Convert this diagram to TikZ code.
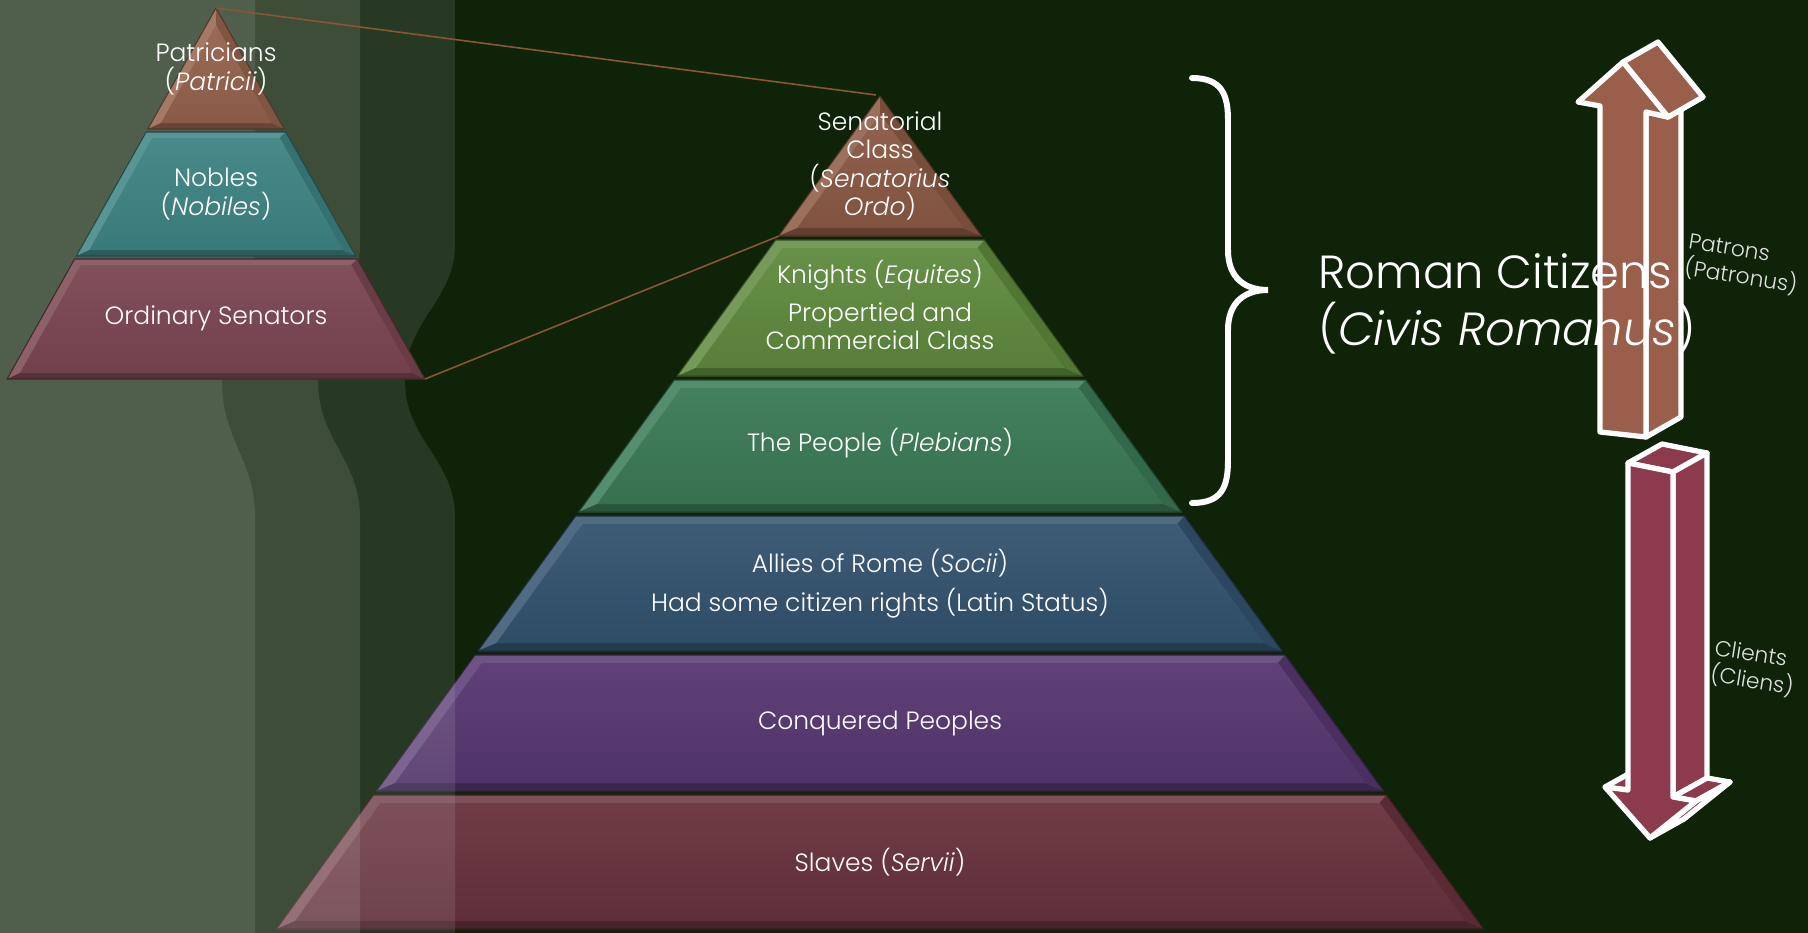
\documentclass[tikz,border=0pt]{standalone}
\usepackage{fontspec}
\IfFontExistsTF{Poppins Light}{%
  \IfFontExistsTF{Poppins Light Italic}{%
    \setmainfont{Poppins Light}[ItalicFont={Poppins Light Italic}]}{%
    \setmainfont{Poppins Light}}}{%
  \setmainfont{Poppins}}

\definecolor{bgcol}{HTML}{0F2309}
\definecolor{linkcol}{HTML}{8A5535}
\definecolor{senat}{HTML}{8B5A44}
\definecolor{knight}{HTML}{5F8A3E}
\definecolor{people}{HTML}{3B7A56}
\definecolor{allies}{HTML}{33536F}
\definecolor{conq}{HTML}{573771}
\definecolor{slave}{HTML}{68323C}
\definecolor{patric}{HTML}{95634D}
\definecolor{noble}{HTML}{3E8484}
\definecolor{ordsen}{HTML}{7B4651}
\definecolor{upcol}{HTML}{9A5F4A}
\definecolor{downcol}{HTML}{8C3A4C}

\newcommand{\tierfont}{\fontsize{7.1}{8.1}\selectfont}
\newcommand{\sidefont}{\fontsize{6.2}{7.6}\selectfont}
\newcommand{\citfont}{\fontsize{13.2}{16}\selectfont}

% one bevelled tier: centre x, apex y, slope, top y, bottom y, bevel, colour
\newcommand{\pyrtier}[7]{%
  \pgfmathsetmacro{\xtl}{#1-#3*(#4-#2)}%
  \pgfmathsetmacro{\xtr}{#1+#3*(#4-#2)}%
  \pgfmathsetmacro{\xbl}{#1-#3*(#5-#2)}%
  \pgfmathsetmacro{\xbr}{#1+#3*(#5-#2)}%
  \pgfmathsetmacro{\yit}{max(#4+#6,#2+1.6*#6/#3)}%
  \pgfmathsetmacro{\yib}{#5-#6}%
  \pgfmathsetmacro{\xitl}{#1-#3*(\yit-#2)+1.6*#6}%
  \pgfmathsetmacro{\xitr}{#1+#3*(\yit-#2)-1.6*#6}%
  \pgfmathsetmacro{\xibl}{#1-#3*(\yib-#2)+1.6*#6}%
  \pgfmathsetmacro{\xibr}{#1+#3*(\yib-#2)-1.6*#6}%
  \fill[#7!86!white] (\xtl,#4) -- (\xtr,#4) -- (\xbr,#5) -- (\xbl,#5) -- cycle;
  \fill[#7!86!black] (\xtr,#4) -- (\xbr,#5) -- (\xibr,\yib) -- (\xitr,\yit) -- cycle;
  \fill[#7!70!black] (\xbl,#5) -- (\xbr,#5) -- (\xibr,\yib) -- (\xibl,\yib) -- cycle;
  \shade[top color=#7!95!white, bottom color=#7!92!black]
    (\xitl,\yit) -- (\xitr,\yit) -- (\xibr,\yib) -- (\xibl,\yib) -- cycle;
  \draw[#7!55!black, line width=0.3pt] (\xtl,#4) -- (\xtr,#4) -- (\xbr,#5) -- (\xbl,#5) -- cycle;
}

\begin{document}
\begin{tikzpicture}[x=0.01cm,y=-0.01cm,
    tierlabel/.style={text=white,align=center,font=\tierfont,inner sep=0pt},
    sidelabel/.style={text=white!88!black,align=left,font=\sidefont,inner sep=0pt},
    citlabel/.style={text=white,font=\citfont,inner sep=0pt,anchor=base west},
    link/.style={draw=linkcol,line width=0.45pt}]
  \tikzstyle{arrowface}=[draw=white,line width=1.5pt,line join=round]

  \useasboundingbox (0,0) rectangle (1808,933);
  \fill[bgcol] (0,0) rectangle (1808,933);

  % main pyramid
  \foreach \t/\b/\c in {96/236/senat,240/376/knight,380/512/people,
                        516/651/allies,655/791/conq,795/929/slave}
    \pyrtier{880}{96}{0.7246}{\t}{\b}{8}{\c};

  % light bands on the left
  \foreach \A/\amp in {455/50,360/42,255/33}
    \fill[white,fill opacity=0.1] (0,0) -- (\A,0) -- (\A,245)
      .. controls (\A,300) and (\A-\amp,320) .. (\A-\amp,381)
      .. controls (\A-\amp,440) and (\A,460) .. (\A,517) -- (\A,933) -- (0,933) -- cycle;

  % small pyramid
  \foreach \t/\b/\c in {8/129/patric,132/256/noble,259/379/ordsen}
    \pyrtier{216}{8}{0.5633}{\t}{\b}{6}{\c};

  \coordinate (sp-apex) at (216,8);
  \coordinate (sp-base) at (425,379);
  \coordinate (mp-apex) at (876,95);
  \coordinate (mp-senat) at (779,236);
  \draw[link] (sp-apex) -- (mp-apex);
  \draw[link] (sp-base) -- (mp-senat);

  \node[tierlabel] (lbl-patric) at (216,69) {Patricians\\(\textit{Patricii})};
  \node[tierlabel] (lbl-noble) at (216,194) {Nobles\\(\textit{Nobiles})};
  \node[tierlabel] (lbl-ordsen) at (216,318) {Ordinary Senators};

  \node[tierlabel] (lbl-senat) at (880,166) {Senatorial\\Class\\(\textit{Senatorius}\\\textit{Ordo})};
  \node[tierlabel] (lbl-knight) at (880,305) {Knights (\textit{Equites})\\[2.8pt]Propertied and\\Commercial Class};
  \node[tierlabel] (lbl-people) at (880,443) {The People (\textit{Plebians})};
  \node[tierlabel] (lbl-allies) at (880,584) {Allies of Rome (\textit{Socii})\\[3pt]Had some citizen rights (Latin Status)};
  \node[tierlabel] (lbl-conq) at (880,723) {Conquered Peoples};
  \node[tierlabel] (lbl-slave) at (880,862) {Slaves (\textit{Servii})};

  % brace
  \draw[white,line width=1.7pt,line cap=round]
    (1192,78) .. controls (1222,78) and (1228,95) .. (1228,120) -- (1228,250)
    .. controls (1228,278) and (1245,290) .. (1268,290)
    .. controls (1245,290) and (1228,302) .. (1228,330) -- (1228,460)
    .. controls (1228,487) and (1222,503) .. (1192,503);

  % patron arrow
  \filldraw[arrowface,fill=upcol] (1646,437) -- (1646,112) -- (1681,92) -- (1681,417) -- cycle;
  \filldraw[arrowface,fill=upcol] (1646,112) -- (1668,117) -- (1703,97) -- (1681,92) -- cycle;
  \filldraw[arrowface,fill=upcol] (1668,117) -- (1623,62) -- (1658,42) -- (1703,97) -- cycle;
  \filldraw[arrowface,fill=upcol] (1600,432) -- (1600,106) -- (1578,102) -- (1623,62)
    -- (1668,117) -- (1646,112) -- (1646,437) -- cycle;

  % client arrow
  \filldraw[arrowface,fill=downcol] (1628,790) -- (1605,787) -- (1639,768) -- (1662,771) -- cycle;
  \filldraw[arrowface,fill=downcol] (1628,463) -- (1662,444) -- (1707,453) -- (1673,472) -- cycle;
  \filldraw[arrowface,fill=downcol] (1673,472) -- (1707,453) -- (1707,778) -- (1673,797) -- cycle;
  \filldraw[arrowface,fill=downcol] (1673,797) -- (1707,778) -- (1730,782) -- (1696,801) -- cycle;
  \filldraw[arrowface,fill=downcol] (1696,801) -- (1730,782) -- (1684,819) -- (1650,838) -- cycle;
  \filldraw[arrowface,fill=downcol] (1628,463) -- (1673,472) -- (1673,797) -- (1696,801)
    -- (1650,838) -- (1605,787) -- (1628,790) -- cycle;

  \node[citlabel] (cit-a) at (1318,288) {Roman Citizens};
  \node[citlabel] (cit-b) at (1318,345) {(\textit{Civis Romanus})};

  \node[sidelabel,rotate=-9,anchor=west] (lbl-patrons) at (1686,256) {Patrons\\(Patronus)};
  \node[sidelabel,rotate=-9,anchor=west] (lbl-clients) at (1712,662) {Clients\\(Cliens)};
\end{tikzpicture}
\end{document}
